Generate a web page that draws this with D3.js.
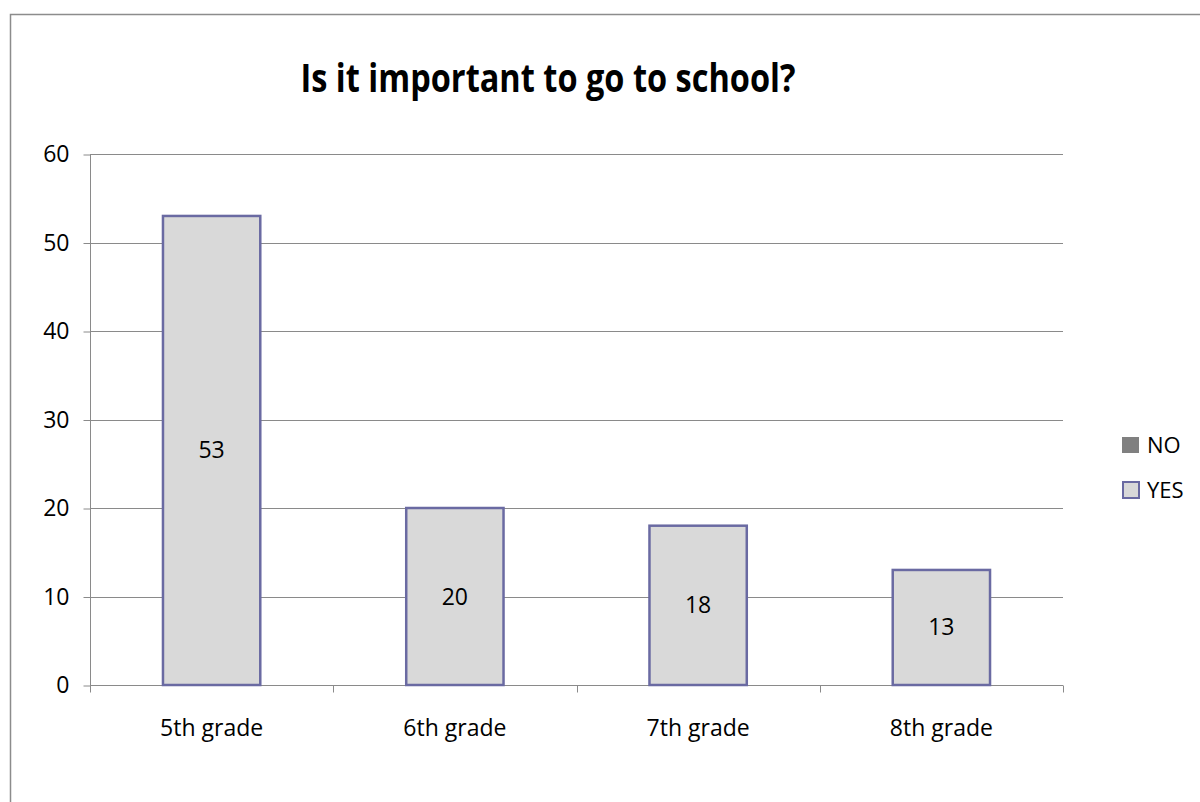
<!DOCTYPE html>
<html>
<head>
<meta charset="utf-8">
<script src="https://cdn.jsdelivr.net/npm/d3@7"></script>
<style>
  html, body { margin: 0; padding: 0; background: #fff; }
  svg { display: block; }
  text { font-family: "Open Sans", "Noto Sans", sans-serif; fill: #000; }
</style>
</head>
<body>
<svg id="chart" width="1200" height="802"></svg>
<script>
// Survey answers per grade
const categories = ["5th grade", "6th grade", "7th grade", "8th grade"];
const seriesNames = ["NO", "YES"];
const yesValues = [53, 20, 18, 13];
const noValues = [0, 0, 0, 0];
const yTicks = [0, 10, 20, 30, 40, 50, 60];

const svg = d3.select("#chart");
const labelSize = 23;

// outer chart frame
svg.append("rect")
  .attr("x", 10.5).attr("y", 14.5)
  .attr("width", 1200).attr("height", 800)
  .attr("fill", "#fff").attr("stroke", "#8c8c8c").attr("stroke-width", 1.5);

// title
svg.append("text")
  .attr("x", 548).attr("y", 92)
  .attr("text-anchor", "middle")
  .attr("font-size", 40).attr("font-weight", "bold")
  .attr("textLength", 495).attr("lengthAdjust", "spacingAndGlyphs")
  .text("Is it important to go to school?");

const plotLeft = 90, plotRight = 1063, plotTop = 154, plotBottom = 685;

const x = d3.scaleBand().domain(categories).range([plotLeft, plotRight]).paddingInner(0.6).paddingOuter(0.3);
const xOuter = d3.scaleBand().domain(categories).range([plotLeft, plotRight]);
const y = d3.scaleLinear().domain([0, 60]).range([plotBottom, plotTop]);

// horizontal gridlines
svg.append("g").selectAll("line").data(yTicks.filter(t => t > 0)).join("line")
  .attr("x1", plotLeft).attr("x2", plotRight)
  .attr("y1", d => Math.round(y(d)) + 0.5).attr("y2", d => Math.round(y(d)) + 0.5)
  .attr("stroke", "#8a8a8a").attr("stroke-width", 1);

// y axis
const yAxis = svg.append("g").attr("transform", `translate(${plotLeft + 0.5},0.5)`)
  .call(d3.axisLeft(y).tickValues(yTicks).tickSize(7).tickPadding(14).tickFormat(d3.format("d")));
yAxis.attr("font-size", null).attr("font-family", null);
yAxis.select(".domain").attr("stroke", "#8a8a8a").attr("d", `M0,${plotTop}V${plotBottom}`);
yAxis.selectAll(".tick line").attr("stroke", "#8a8a8a");
yAxis.selectAll(".tick text").attr("font-size", labelSize).attr("fill", "#000");

// x axis
const xAxis = svg.append("g").attr("transform", `translate(0,${plotBottom + 0.5})`);
xAxis.append("line").attr("x1", plotLeft).attr("x2", plotRight).attr("y1", 0).attr("y2", 0)
  .attr("stroke", "#8a8a8a");
const boundaries = categories.map(c => xOuter(c)).concat([plotRight]);
xAxis.selectAll("line.tk").data(boundaries).join("line").attr("class", "tk")
  .attr("x1", d => Math.round(d) + 0.5).attr("x2", d => Math.round(d) + 0.5)
  .attr("y1", 0).attr("y2", 7).attr("stroke", "#8a8a8a");
xAxis.selectAll("text").data(categories).join("text")
  .attr("x", d => xOuter(d) + xOuter.bandwidth() / 2)
  .attr("y", 50)
  .attr("text-anchor", "middle").attr("font-size", labelSize)
  .text(d => d);

// stacked bars: NO (zero) underneath YES
const rows = categories.map((c, i) => ({ cat: c, NO: noValues[i], YES: yesValues[i] }));
const stack = d3.stack().keys(seriesNames)(rows);
const fills = { NO: "#808080", YES: "#d9d9d9" };
const strokes = { NO: "none", YES: "#6a6aa2" };

stack.forEach(layer => {
  svg.append("g").selectAll("rect").data(layer.filter(d => d[1] > d[0])).join("rect")
    .attr("x", d => x(d.data.cat))
    .attr("y", d => y(d[1]))
    .attr("width", x.bandwidth())
    .attr("height", d => y(d[0]) - y(d[1]))
    .attr("fill", fills[layer.key])
    .attr("stroke", strokes[layer.key]).attr("stroke-width", 2.5);
});

// value labels inside the YES bars
const yesLayer = stack.find(l => l.key === "YES");
svg.append("g").selectAll("text").data(yesLayer).join("text")
  .attr("x", d => x(d.data.cat) + x.bandwidth() / 2)
  .attr("y", d => y((d[0] + d[1]) / 2) + 8)
  .attr("text-anchor", "middle").attr("font-size", labelSize)
  .text(d => d.data.YES);

// legend
const legend = svg.append("g").attr("transform", "translate(1122,437)");
seriesNames.forEach((name, i) => {
  const g = legend.append("g").attr("transform", `translate(0,${i * 45})`);
  if (name === "YES") {
    g.append("rect").attr("x", 1).attr("y", 0).attr("width", 16).attr("height", 16)
      .attr("fill", fills[name]).attr("stroke", strokes[name]).attr("stroke-width", 2);
  } else {
    g.append("rect").attr("x", 0).attr("y", 0).attr("width", 17).attr("height", 16)
      .attr("fill", fills[name]);
  }
  g.append("text").attr("x", 25).attr("y", 16)
    .attr("font-size", 22).text(name);
});
</script>
</body>
</html>
